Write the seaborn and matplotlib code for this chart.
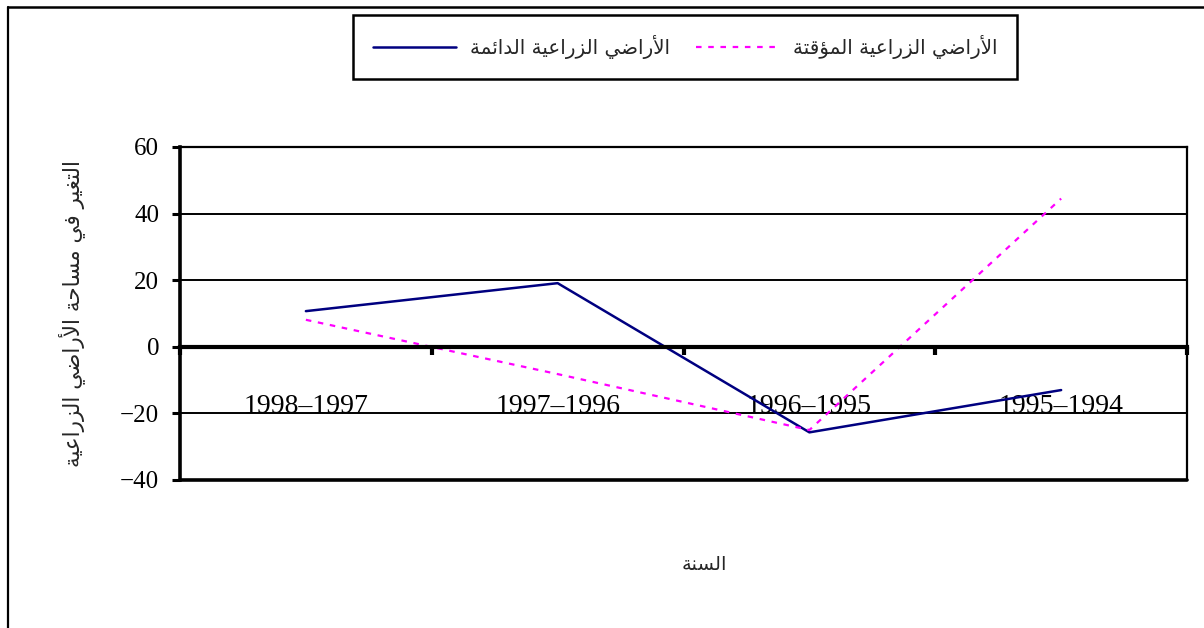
import pandas as pd
import matplotlib.pyplot as plt
import seaborn as sns
from matplotlib.lines import Line2D

# data
periods = ['1998–1997', '1997–1996', '1996–1995', '1995–1994']
permanent = [10.7, 19.1, -25.7, -13.0]
temporary = [8.1, -8.2, -25.0, 44.5]

name_perm = 'الأراضي الزراعية الدائمة'
name_temp = 'الأراضي الزراعية المؤقتة'
y_title = 'التغير في مساحة الأراضي الزراعية'
x_title = 'السنة'

# matplotlib has no arabic shaping, so pick the presentation forms by hand
FORMS = {
    'ا': ('\uFE8D', '\uFE8E', None, None),
    'أ': ('\uFE83', '\uFE84', None, None),
    'ؤ': ('\uFE85', '\uFE86', None, None),
    'ئ': ('\uFE89', '\uFE8A', '\uFE8B', '\uFE8C'),
    'ة': ('\uFE93', '\uFE94', None, None),
    'ت': ('\uFE95', '\uFE96', '\uFE97', '\uFE98'),
    'ح': ('\uFEA1', '\uFEA2', '\uFEA3', '\uFEA4'),
    'د': ('\uFEA9', '\uFEAA', None, None),
    'ر': ('\uFEAD', '\uFEAE', None, None),
    'ز': ('\uFEAF', '\uFEB0', None, None),
    'س': ('\uFEB1', '\uFEB2', '\uFEB3', '\uFEB4'),
    'ض': ('\uFEBD', '\uFEBE', '\uFEBF', '\uFEC0'),
    'ع': ('\uFEC9', '\uFECA', '\uFECB', '\uFECC'),
    'غ': ('\uFECD', '\uFECE', '\uFECF', '\uFED0'),
    'ف': ('\uFED1', '\uFED2', '\uFED3', '\uFED4'),
    'ق': ('\uFED5', '\uFED6', '\uFED7', '\uFED8'),
    'ل': ('\uFEDD', '\uFEDE', '\uFEDF', '\uFEE0'),
    'م': ('\uFEE1', '\uFEE2', '\uFEE3', '\uFEE4'),
    'ن': ('\uFEE5', '\uFEE6', '\uFEE7', '\uFEE8'),
    'ي': ('\uFEF1', '\uFEF2', '\uFEF3', '\uFEF4'),
    'لا': ('\uFEFB', '\uFEFC', None, None),
    'لأ': ('\uFEF7', '\uFEF8', None, None),
}


def shape(text):
    tokens = []
    i = 0
    while i < len(text):
        if text[i] == 'ل' and i + 1 < len(text) and text[i:i + 2] in FORMS:
            tokens.append(text[i:i + 2])
            i += 2
        else:
            tokens.append(text[i])
            i += 1
    out = []
    for k, t in enumerate(tokens):
        if t not in FORMS:
            out.append(t)
            continue
        iso, fin, ini, med = FORMS[t]
        prev_joins = k > 0 and tokens[k - 1] in FORMS and FORMS[tokens[k - 1]][2] is not None
        next_is_letter = k + 1 < len(tokens) and tokens[k + 1] in FORMS
        if prev_joins and ini and next_is_letter:
            out.append(med)
        elif prev_joins:
            out.append(fin)
        elif ini and next_is_letter:
            out.append(ini)
        else:
            out.append(iso)
    return ''.join(out)[::-1]


sns.set_theme(style='white')
plt.rcParams['font.family'] = ['Liberation Serif', 'DejaVu Sans']
plt.rcParams['axes.unicode_minus'] = True

df = pd.DataFrame({
    'period': periods * 2,
    'value': permanent + temporary,
    'series': [shape(name_perm)] * 4 + [shape(name_temp)] * 4,
})

palette = {shape(name_perm): '#000080', shape(name_temp): '#FF00FF'}
dashes = {shape(name_perm): '', shape(name_temp): (2.5, 3)}

fig = plt.figure(figsize=(12.04, 6.28), dpi=100)
ax = fig.add_axes([0.1495, 0.2357, 0.8364, 0.5303])

sns.lineplot(data=df, x='period', y='value', hue='series', style='series',
             palette=palette, dashes=dashes, sort=False, linewidth=1.8, ax=ax)
for ln in ax.lines:
    if ln.get_color().lower() == '#ff00ff':
        ln.set_linewidth(1.6)

ax.set_xlim(-0.5, 3.5)
ax.set_ylim(-40, 60)
ax.set_yticks([-40, -20, 0, 20, 40, 60])

# horizontal grid
ax.yaxis.grid(True, color='black', linewidth=1.4)
ax.xaxis.grid(False)
ax.set_axisbelow(True)

# category axis sits on zero
ax.spines['bottom'].set_position(('data', 0))
ax.spines['bottom'].set_linewidth(3)
ax.spines['left'].set_linewidth(2.6)
ax.spines['top'].set_linewidth(1.6)
ax.spines['right'].set_linewidth(1.6)
for s in ax.spines.values():
    s.set_color('black')
ax.axhline(-40, color='black', linewidth=2.6, clip_on=False, zorder=3)

ax.set_xticks(range(len(periods)))
ax.set_xticklabels(periods, fontsize=20)
ax.set_xticks([-0.5, 0.5, 1.5, 2.5, 3.5], minor=True)
ax.tick_params(axis='x', which='major', length=0, pad=34, colors='black')
ax.tick_params(axis='x', which='minor', bottom=True, direction='out',
               length=6, width=3, color='black')
ax.tick_params(axis='y', which='major', left=True, direction='out', length=6,
               width=2.2, color='black', labelsize=18, pad=9, labelcolor='black')

ax.set_xlabel(shape(x_title), family='DejaVu Sans', fontsize=14)
ax.xaxis.label.set_va('center')
ax.xaxis.set_label_coords(0.521, -0.255)
ax.set_ylabel(shape(y_title), family='DejaVu Sans', fontsize=15.5)
ax.yaxis.label.set_va('center')
ax.yaxis.set_label_coords(-0.108, 0.5)

handles, labels = ax.get_legend_handles_labels()
ax.get_legend().remove()
leg = fig.legend(handles, labels, loc='center', bbox_to_anchor=(0.569, 0.925),
                 ncol=2, frameon=True, fancybox=False, framealpha=1,
                 edgecolor='black', handlelength=4.2, handletextpad=0.7,
                 columnspacing=1.3, borderpad=1.0,
                 prop={'family': 'DejaVu Sans', 'size': 14.3})
leg.get_frame().set_linewidth(1.8)

# outer chart border (left and top are visible)
bx = 8 / 1204
by = 1 - 7 / 628
fig.add_artist(Line2D([bx, bx], [0, by], transform=fig.transFigure, color='black', linewidth=1.6))
fig.add_artist(Line2D([bx, 1], [by, by], transform=fig.transFigure, color='black', linewidth=1.8))

fig.savefig('out.png', dpi=100, facecolor='white')
